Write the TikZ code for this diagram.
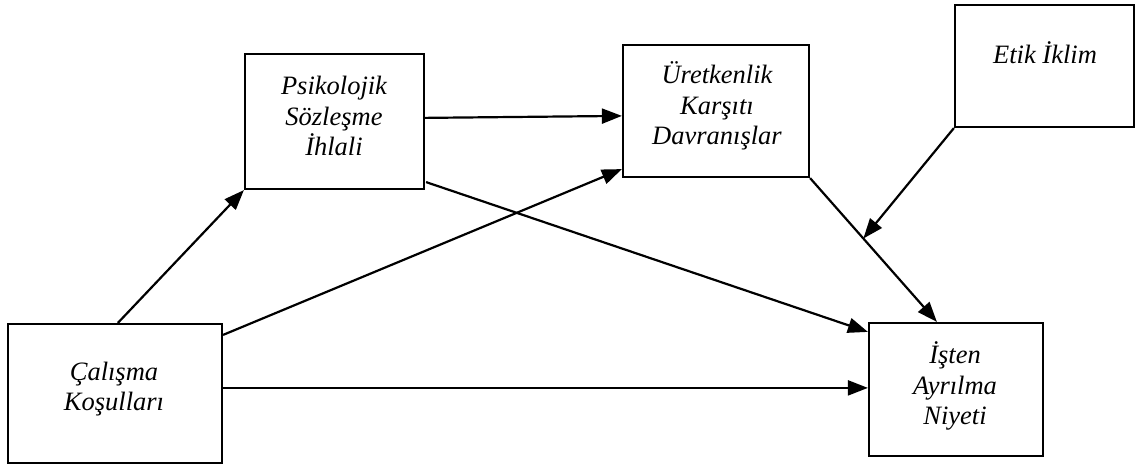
\documentclass[tikz,border=0pt]{standalone}
\usepackage{fontspec}
\setmainfont{Liberation Serif}
\usetikzlibrary{arrows.meta,calc}
\begin{document}
\begin{tikzpicture}[x=1pt,y=-1pt,
  box/.style={draw,line width=2.2pt,rectangle,inner sep=0pt},
  lbl/.style={align=center,inner sep=0pt,font=\itshape\fontsize{26.5}{30.5}\selectfont},
  conn/.style={line width=2.2pt,-{Triangle[length=20pt,width=15pt]}}]
\useasboundingbox (0,0) rectangle (1136,466);
% boxes
\node[box,minimum width=179pt,minimum height=135pt] (psi) at (334.5,121.5) {};
\node[box,minimum width=186pt,minimum height=132pt] (ure) at (716,111) {};
\node[box,minimum width=179pt,minimum height=122pt] (etik) at (1044.5,66) {};
\node[box,minimum width=214pt,minimum height=139pt] (cal) at (115,393.5) {};
\node[box,minimum width=174pt,minimum height=133pt] (isten) at (956,389.5) {};
% texts
\node[lbl] (psit) at (334,116) {Psikolojik\\Sözleşme\\İhlali};
\node[lbl] (uret) at (717,106) {Üretkenlik\\Karşıtı\\Davranışlar};
\node[lbl] (etikt) at (1045,53) {Etik İklim};
\node[lbl] (calt) at (114,389) {Çalışma\\Koşulları};
\node[lbl] (istent) at (955,386) {İşten\\Ayrılma\\Niyeti};
% connectors
\draw[conn] ($(cal.north west)+(111,0)$) -- (psi.south west);
\draw[conn] ($(cal.north east)+(0,12)$) -- ($(ure.south west)+(0,-9)$);
\draw[conn] ($(cal.north east)+(0,65)$) -- ($(isten.north west)+(0,66)$);
\draw[conn] ($(psi.north east)+(-2,65)$) -- ($(ure.north west)+(0,72)$);
\draw[conn] ($(psi.south east)+(1,-8)$) -- ($(isten.north west)+(0,10)$);
\draw[conn] (ure.south east) -- ($(isten.north west)+(69,0)$);
\coordinate (m) at ($(ure.south east)!0.42!($(isten.north west)+(69,0)$)$);
\draw[conn] (etik.south west) -- (m);
\end{tikzpicture}
\end{document}
